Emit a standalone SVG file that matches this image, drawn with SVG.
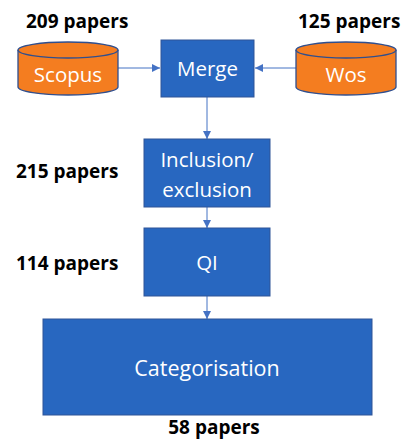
<svg xmlns="http://www.w3.org/2000/svg" width="406" height="441" viewBox="0 0 406 441">
<defs>
<style>
.box{fill:#2867C0;stroke:#2F5597;stroke-width:1}
.cyl{fill:#F47D20;stroke:#2F4F8F;stroke-width:1.3}
.wt{fill:#fff;font-family:"Open Sans","Liberation Sans",sans-serif;text-anchor:middle;font-size:20.5px}
.lbl{fill:#000;font-family:"Open Sans","Liberation Sans",sans-serif;font-weight:bold;font-size:19px}
.con{stroke:#4472C4;stroke-width:1;fill:none;marker-end:url(#ah)}
</style>
<marker id="ah" viewBox="0 0 10 10" refX="10" refY="5" markerWidth="8" markerHeight="8" markerUnits="userSpaceOnUse" orient="auto">
<path d="M0,0 L10,5 L0,10 z" fill="#4472C4"/>
</marker>
</defs>
<rect width="406" height="441" fill="#fff"/>
<g id="connectors">
<line class="con" x1="118" y1="68" x2="160" y2="68"/>
<line class="con" x1="296" y1="68" x2="255" y2="68"/>
<line class="con" x1="207" y1="97" x2="207" y2="139"/>
<line class="con" x1="207" y1="207" x2="207" y2="228"/>
<line class="con" x1="207" y1="296" x2="207" y2="319"/>
</g>
<g id="scopus">
<path class="cyl" d="M18,50 A50,8 0 0 1 118,50 L118,87 A50,8 0 0 1 18,87 Z"/>
<path class="cyl" d="M18,50 A50,8 0 0 0 118,50" style="fill:none"/>
<text class="wt" x="68" y="82">Scopus</text>
<text class="lbl" x="26" y="28">209 papers</text>
</g>
<g id="wos">
<path class="cyl" d="M296,50 A50,8 0 0 1 396,50 L396,87 A50,8 0 0 1 296,87 Z"/>
<path class="cyl" d="M296,50 A50,8 0 0 0 396,50" style="fill:none"/>
<text class="wt" x="346" y="82">Wos</text>
<text class="lbl" x="298" y="28">125 papers</text>
</g>
<g id="merge">
<rect class="box" x="161" y="40" width="93" height="57"/>
<text class="wt" x="207.5" y="76">Merge</text>
</g>
<g id="inclusion">
<rect class="box" x="144" y="139" width="126" height="68"/>
<text class="wt" x="207" y="167">Inclusion/</text>
<text class="wt" x="207" y="197">exclusion</text>
<text class="lbl" x="16" y="178">215 papers</text>
</g>
<g id="qi">
<rect class="box" x="144" y="228" width="126" height="68"/>
<text class="wt" x="207" y="270">QI</text>
<text class="lbl" x="16" y="270">114 papers</text>
</g>
<g id="categorisation">
<rect class="box" x="43" y="319" width="329" height="96"/>
<text class="wt" x="207" y="376" style="font-size:21.5px">Categorisation</text>
<text class="lbl" x="214" y="434" text-anchor="middle">58 papers</text>
</g>
</svg>
